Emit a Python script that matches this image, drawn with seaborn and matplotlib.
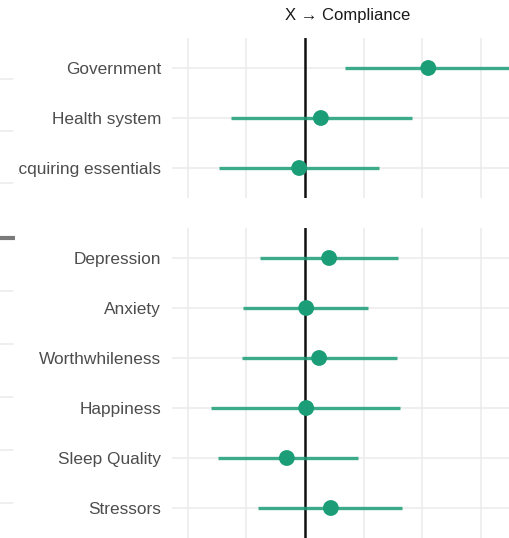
import matplotlib
matplotlib.use("Agg")
import matplotlib.pyplot as plt
import seaborn as sns
import pandas as pd

sns.set_theme(style="white")
plt.rcParams["font.family"] = ["Liberation Sans", "DejaVu Sans"]

# Estimates (point and 95% interval) of each predictor on compliance
top_labels = ["Government", "Health system", "Acquiring essentials"]
top_est = [0.210, 0.027, -0.010]
top_low = [0.068, -0.126, -0.147]
top_high = [0.400, 0.182, 0.126]

bottom_labels = ["Depression", "Anxiety", "Worthwhileness", "Happiness",
                 "Sleep Quality", "Stressors"]
bottom_est = [0.041, 0.002, 0.024, 0.002, -0.031, 0.044]
bottom_low = [-0.077, -0.106, -0.108, -0.160, -0.148, -0.080]
bottom_high = [0.158, 0.107, 0.156, 0.162, 0.090, 0.165]

grid_ticks = [-0.2, -0.1, 0.0, 0.1, 0.2, 0.3]
x_range = (-0.2266, 0.373)

# neighbouring facet column (only its right edge is visible)
side_top_rows = 3
side_bottom_rows = 6
side_bottom_low = [0.90, None, None, None, None, None]
side_bottom_high = [0.991, None, None, None, None, None]

GREEN = "#1b9e77"
GRID = "#ebebeb"
TEXT = "#4d4d4d"

W, H = 510, 538
fig = plt.figure(figsize=(W / 100, H / 100), dpi=100)


def px_axes(left, top, right, bottom):
    return fig.add_axes([left / W, 1 - bottom / H, (right - left) / W, (bottom - top) / H])


def panel(ax, labels, est, low, high):
    n = len(labels)
    df = pd.DataFrame({"label": labels, "est": est, "low": low, "high": high,
                       "row": range(n)})
    ax.set_facecolor("none")
    ax.set_xlim(*x_range)
    ax.set_ylim(n - 0.4, -0.6)
    ax.set_xticks(grid_ticks)
    ax.set_xticklabels([])
    ax.set_yticks(range(n))
    ax.set_yticklabels(labels, color=TEXT, fontsize=12.4)
    ax.tick_params(axis="both", length=0, pad=8)
    ax.grid(True, color=GRID, linewidth=1.1)
    ax.set_axisbelow(True)
    for s in ax.spines.values():
        s.set_visible(False)
    ax.axvline(0, color="#111111", linewidth=1.8, zorder=2)
    ax.hlines(df["row"], df["low"], df["high"], color=GREEN, alpha=0.85,
              linewidth=2.4, zorder=3)
    sns.scatterplot(data=df, x="est", y="row", ax=ax, color=GREEN, s=130,
                    edgecolor="none", zorder=4, legend=False)
    ax.set_xlabel("")
    ax.set_ylabel("")


ax_top = px_axes(172, 38, 524, 198)
panel(ax_top, top_labels, top_est, top_low, top_high)
ax_top.set_title("X \u2192 Compliance", fontsize=12, color="#1a1a1a", pad=13)

ax_bot = px_axes(172, 228, 524, 538)
panel(ax_bot, bottom_labels, bottom_est, bottom_low, bottom_high)


def side_panel(ax, n, low=None, high=None):
    # opaque strip of the neighbouring panel; its gridlines stop short of its edge
    ax.set_facecolor("white")
    ax.set_xlim(0, 1)
    ax.set_ylim(n - 0.5, -0.5)
    ax.set_xticks([])
    ax.set_yticks([])
    for s in ax.spines.values():
        s.set_visible(False)
    for i in range(n):
        ax.axhline(i, xmin=0, xmax=0.984, color=GRID, linewidth=1.1)
    if high is not None:
        for i, (lo, hi) in enumerate(zip(low, high)):
            if hi is not None:
                ax.hlines(i, lo, hi, color="#7a7a7a", linewidth=3)


side_panel(px_axes(-300, 53, 18, 209), side_top_rows)
side_panel(px_axes(-300, 211, 18, 530), side_bottom_rows,
           side_bottom_low, side_bottom_high)

fig.savefig("out.png", dpi=100)
